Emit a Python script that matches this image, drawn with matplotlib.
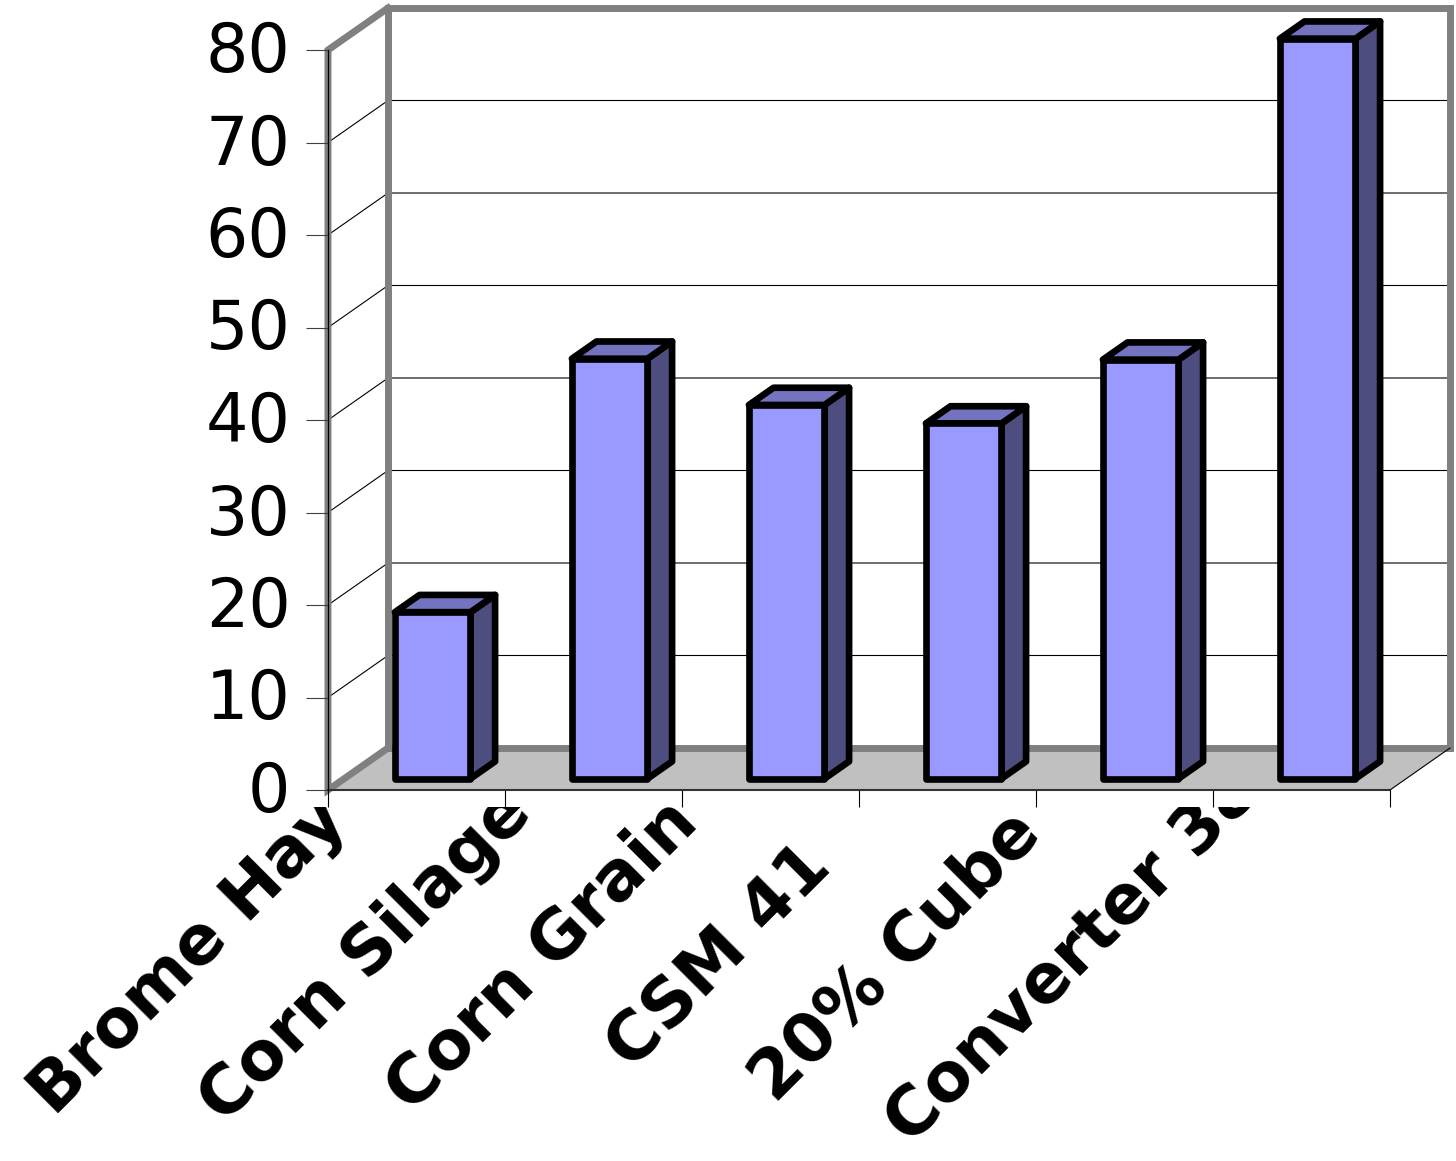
import matplotlib
matplotlib.use("Agg")
import matplotlib.pyplot as plt
from matplotlib.patches import Polygon, Rectangle
from matplotlib.transforms import ScaledTranslation

# ---- data -------------------------------------------------------------
categories = ["Brome Hay", "Corn Silage", "Corn Grain", "CSM 41", "20% Cube", "Converter 38"]
values = [18, 45.4, 40.4, 38.4, 45.3, 80]
y_ticks = [0, 10, 20, 30, 40, 50, 60, 70, 80]

# ---- figure / front plane of the 3-D box ------------------------------
W, H, DPI = 1456, 1161, 100
fig = plt.figure(figsize=(W / DPI, H / DPI), dpi=DPI)
fig.patch.set_facecolor("white")

x0_px, x1_px = 328, 1390      # front plane, left/right
y0_px, y1_px = 790, 50        # front plane, value 0 / value max
ax = fig.add_axes([x0_px / W, (H - y0_px) / H,
                   (x1_px - x0_px) / W, (y0_px - y1_px) / H])
n = len(categories)
vmax = y_ticks[-1]
ax.set_xlim(0, n)
ax.set_ylim(0, vmax)
ax.set_facecolor("none")

# depth of the box (oblique projection): 60 px right, 42 px up
DX = 60 / ((x1_px - x0_px) / n)
DY = 42 / ((y0_px - y1_px) / vmax)


def P(x, v, d):
    """Project (category x, value v, depth d in 0..1) into data coords."""
    return (x + d * DX, v + d * DY)


def poly(pts, **kw):
    p = Polygon(pts, closed=True, clip_on=False, **kw)
    ax.add_patch(p)
    return p


def line(pts, **kw):
    xs, ys = zip(*pts)
    ax.plot(xs, ys, clip_on=False, **kw)


WALL_EDGE = "#808080"
FLOOR = "#C0C0C0"
wall_lw = 5.0

# walls and floor
poly([P(0, 0, 1), P(n, 0, 1), P(n, vmax, 1), P(0, vmax, 1)], fc="white", ec="none", zorder=0)
poly([P(0, 0, 0), P(0, 0, 1), P(0, vmax, 1), P(0, vmax, 0)], fc="white", ec="none", zorder=0)
poly([P(0, 0, 0), P(n, 0, 0), P(n, 0, 1), P(0, 0, 1)], fc=FLOOR, ec="none", zorder=0.5)

# gridlines on the left and back walls
for v in y_ticks[1:-1]:
    line([P(0, v, 0), P(0, v, 1), P(n, v, 1)], color="black", lw=0.8, zorder=1)

# thick grey wall borders
line([P(0, 0, 1), P(0, vmax, 1), P(n, vmax, 1), P(n, 0, 1), P(0, 0, 1)],
     color=WALL_EDGE, lw=wall_lw, zorder=1.5, solid_joinstyle="miter")
line([P(0, 0, 1), P(0, 0, 0), P(0, vmax, 0), P(0, vmax, 1)],
     color=WALL_EDGE, lw=wall_lw, zorder=1.5, solid_joinstyle="miter")

# floor front and right edges
line([P(0, 0, 0), P(n, 0, 0)], color="#333333", lw=1.5, zorder=2)
line([P(n, 0, 0), P(n, 0, 1)], color="black", lw=0.8, zorder=2)

# value axis line
line([P(0, 0, 0), P(0, vmax, 0)], color="black", lw=0.9, zorder=2.2)

# ---- bars ---------------------------------------------------------------
FRONT = "#9999FF"
TOP = "#7373BF"
SIDE = "#4D4D80"
bar_w = 0.427
f1, f2 = 0.27, 0.68
edge_lw = 4.8
for i, v in enumerate(values):
    xl, xr = i + 0.5 - bar_w / 2, i + 0.5 + bar_w / 2
    side = [P(xr, 0, f1), P(xr, 0, f2), P(xr, v, f2), P(xr, v, f1)]
    top = [P(xl, v, f1), P(xr, v, f1), P(xr, v, f2), P(xl, v, f2)]
    front = [P(xl, 0, f1), P(xr, 0, f1), P(xr, v, f1), P(xl, v, f1)]
    for pts, col in ((side, SIDE), (top, TOP), (front, FRONT)):
        poly(pts, fc=col, ec="black", lw=edge_lw, joinstyle="round", zorder=5)

# ---- axes ticks ---------------------------------------------------------
for s in ax.spines.values():
    s.set_visible(False)

ax.set_yticks(y_ticks)
ax.set_yticklabels([str(t) for t in y_ticks], fontsize=48, family="DejaVu Sans")
ax.tick_params(axis="y", direction="out", length=16, width=0.8, color="#404040", pad=11)
lift = ScaledTranslation(0, 4 / DPI, fig.dpi_scale_trans)
for lbl in ax.get_yticklabels():
    lbl.set_transform(lbl.get_transform() + lift)

ax.set_xticks(range(n + 1))
ax.set_xticklabels([""] * (n + 1))
ax.tick_params(axis="x", direction="out", length=12.5, width=0.8, color="black")

# rotated category labels, cut off just under the axis
clip = Rectangle((0, 0), 1, (H - 807) / H, transform=fig.transFigure)
shift = ScaledTranslation(-215 / DPI, -180 / DPI, fig.dpi_scale_trans)
for i, name in enumerate(categories):
    t = ax.text(i + 0.5, 0, name, transform=ax.transData + shift,
                rotation=45, rotation_mode="anchor", ha="center", va="baseline",
                fontsize=49, fontweight="bold", family="DejaVu Sans",
                clip_on=True, zorder=3)
    t.set_clip_path(clip)

fig.savefig("out.png", dpi=DPI)
